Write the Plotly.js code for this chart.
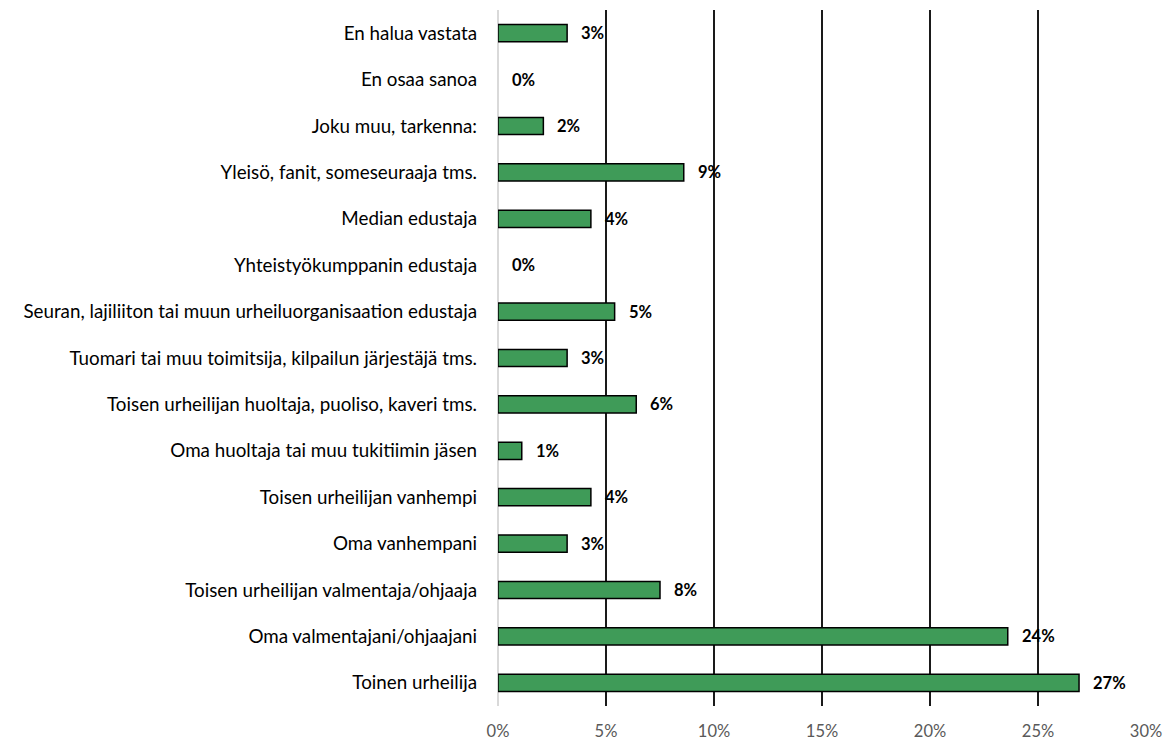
<!DOCTYPE html>
<html>
<head>
<meta charset="utf-8">
<script src="https://cdn.plot.ly/plotly-3.0.1.min.js"></script>
<style>html,body{margin:0;padding:0;background:#fff}#chart{width:1170px;height:742px}</style>
</head>
<body>
<div id="chart"></div>
<script>
const categories = [
  "Toinen urheilija",
  "Oma valmentajani/ohjaajani",
  "Toisen urheilijan valmentaja/ohjaaja",
  "Oma vanhempani",
  "Toisen urheilijan vanhempi",
  "Oma huoltaja tai muu tukitiimin jäsen",
  "Toisen urheilijan huoltaja, puoliso, kaveri tms.",
  "Tuomari tai muu toimitsija, kilpailun järjestäjä tms.",
  "Seuran, lajiliiton tai muun urheiluorganisaation edustaja",
  "Yhteistyökumppanin edustaja",
  "Median edustaja",
  "Yleisö, fanit, someseuraaja tms.",
  "Joku muu, tarkenna:",
  "En osaa sanoa",
  "En halua vastata"
];
const values = [0.269, 0.236, 0.075, 0.032, 0.043, 0.011, 0.064, 0.032, 0.054, 0.0, 0.043, 0.086, 0.021, 0.0, 0.032];
const labels = ["27%","24%","8%","3%","4%","1%","6%","3%","5%","0%","4%","9%","2%","0%","3%"];
const tickVals = [0, 0.05, 0.10, 0.15, 0.20, 0.25, 0.30];
const tickText = ["0%","5%","10%","15%","20%","25%","30%"];

const trace = {
  type: "bar",
  orientation: "h",
  y: categories,
  x: values,
  marker: {color: "#3f9b58", line: {color: "#000000", width: values.map(v => v > 0 ? 1.5 : 0)}},
  hoverinfo: "none"
};

const annotations = categories.map((c, i) => ({
  x: values[i], y: c, xref: "x", yref: "y",
  text: "<b>" + labels[i] + "</b>",
  showarrow: false, xanchor: "left", xshift: 12, yshift: 0,
  font: {family: "Lato, Open Sans, sans-serif", size: 16.5, color: "#000"}
}));

const layout = {
  width: 1170, height: 742,
  margin: {l: 498, r: 24, t: 10, b: 36},
  paper_bgcolor: "#fff", plot_bgcolor: "#fff",
  showlegend: false,
  bargap: 0.63,
  font: {family: "Lato, Open Sans, sans-serif"},
  xaxis: {
    range: [0, 0.30],
    tickvals: tickVals, ticktext: tickText,
    showgrid: true, gridcolor: "#1a1a1a", gridwidth: 2,
    zeroline: true, zerolinecolor: "#d9d9d9", zerolinewidth: 2,
    showline: false, ticks: "", ticklabelstandoff: 13,
    tickfont: {size: 16.5, color: "#595959"},
    fixedrange: true
  },
  yaxis: {
    type: "category",
    categoryorder: "array", categoryarray: categories,
    showgrid: false, zeroline: false, showline: false,
    ticks: "", ticklabelstandoff: 20,
    tickfont: {size: 18.8, color: "#000"},
    automargin: false,
    fixedrange: true
  },
  annotations: annotations
};

Plotly.newPlot("chart", [trace], layout, {displayModeBar: false, staticPlot: true});
</script>
</body>
</html>
